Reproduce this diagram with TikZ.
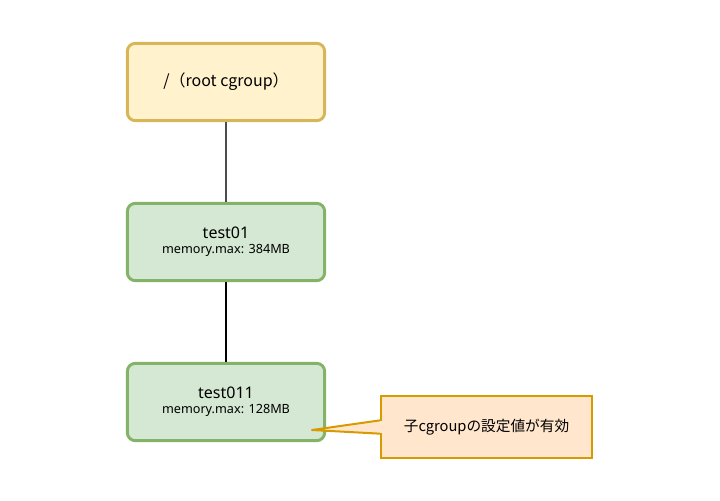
\documentclass[tikz,border=0pt]{standalone}
\usepackage{fontspec}
\setmainfont{Noto Sans}
\newfontfamily\cjk{Noto Sans CJK JP}
\usetikzlibrary{positioning}
\definecolor{rootfill}{HTML}{FFF2CC}
\definecolor{rootline}{HTML}{D6B656}
\definecolor{cgfill}{HTML}{D5E8D4}
\definecolor{cgline}{HTML}{82B366}
\definecolor{notefill}{HTML}{FFE6CC}
\definecolor{noteline}{HTML}{D79B00}
\begin{document}
\begin{tikzpicture}[x=0.75pt, y=-0.75pt,
        cgbox/.style={rectangle, draw=cgline, fill=cgfill, line width=2.2pt,
                    minimum width=148pt, minimum height=58pt, align=center, rounded corners=6pt},
        notebox/.style={rectangle, draw=noteline, fill=notefill, line width=1.5pt,
                    minimum width=158pt, minimum height=47pt, align=center, font=\cjk\fontsize{11}{13}\selectfont}
      ]
        \useasboundingbox (0,0) rectangle (720,500);
        \node[cgbox, draw=rootline, fill=rootfill, font=\cjk\fontsize{12}{14}\selectfont] (root) at (226, 82) {/（root cgroup）};
        \node[cgbox] (test01) at (226, 242) {{\fontsize{12}{14}\selectfont test01}\\[-1pt]{\fontsize{9.5}{11}\selectfont memory.max: 384MB}};
        \node[cgbox] (test011) at (226, 402) {{\fontsize{12}{14}\selectfont test011}\\[-1pt]{\fontsize{9.5}{11}\selectfont memory.max: 128MB}};
        \node[notebox] (note) at (486.5, 427) {子cgroupの設定値が有効};
        \coordinate (tip) at (312, 430);

        \draw[line width=1.5pt, black!70] (root) -- (test01);
        \draw[line width=1.5pt, black] (test01) -- (test011);
        \draw[noteline, fill=notefill, line width=1.5pt, line join=round]
          ([yshift=5pt]note.west) -- (tip) -- ([yshift=-5pt]note.west);
        \fill[notefill] ([xshift=-0.3pt, yshift=4.2pt]note.west) rectangle ([xshift=1pt, yshift=-4.2pt]note.west);
      \end{tikzpicture}
\end{document}
